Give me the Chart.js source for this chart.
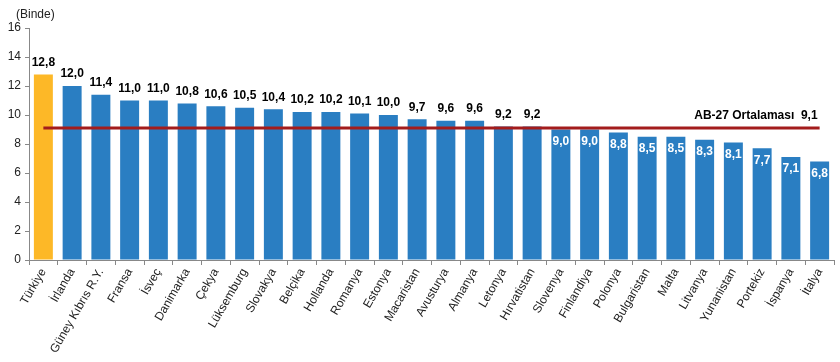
<!DOCTYPE html>
<html>
<head>
<meta charset="utf-8">
<script src="https://cdn.jsdelivr.net/npm/chart.js@4/dist/chart.umd.min.js"></script>
<style>
  html, body { margin: 0; padding: 0; background: #fff; }
  #wrap { width: 840px; height: 362px; }
</style>
</head>
<body>
<div id="wrap"><canvas id="bar-chart"></canvas></div>
<script>
const countries = ["Türkiye", "İrlanda", "Güney Kıbrıs R.Y.", "Fransa", "İsveç", "Danimarka", "Çekya", "Lüksemburg", "Slovakya", "Belçika", "Hollanda", "Romanya", "Estonya", "Macaristan", "Avusturya", "Almanya", "Letonya", "Hırvatistan", "Slovenya", "Finlandiya", "Polonya", "Bulgaristan", "Malta", "Litvanya", "Yunanistan", "Portekiz", "İspanya", "İtalya"];
const rates = [12.8, 12.0, 11.4, 11.0, 11.0, 10.8, 10.6, 10.5, 10.4, 10.2, 10.2, 10.1, 10.0, 9.7, 9.6, 9.6, 9.2, 9.2, 9.0, 9.0, 8.8, 8.5, 8.5, 8.3, 8.1, 7.7, 7.1, 6.8];
const euAverage = 9.1;
const avgLabel = "AB-27 Ortalaması";
const yTicks = [0, 2, 4, 6, 8, 10, 12, 14, 16];
const unitLabel = "(Binde)";

const fmt = v => v.toFixed(1).replace('.', ',');
const FONT = "Arial, 'Liberation Sans', sans-serif";

const barColors = countries.map((c, i) => i === 0 ? '#FDB827' : '#2A7EC2');

const labelsPlugin = {
  id: 'labels',
  afterDatasetsDraw(chart) {
    const ctx = chart.ctx;
    const y = chart.scales.y;
    const meta = chart.getDatasetMeta(0);
    ctx.save();
    ctx.font = 'bold 12px ' + FONT;
    ctx.textAlign = 'center';
    ctx.textBaseline = 'middle';
    meta.data.forEach((bar, i) => {
      const v = rates[i];
      if (v > euAverage) {
        ctx.fillStyle = '#000';
        ctx.fillText(fmt(v), bar.x, bar.y - 12);
      } else {
        ctx.fillStyle = '#fff';
        ctx.fillText(fmt(v), bar.x, bar.y + 12);
      }
    });
    // average label
    const last = meta.data[meta.data.length - 1];
    ctx.fillStyle = '#000';
    ctx.textAlign = 'right';
    ctx.fillText(avgLabel + '  ' + fmt(euAverage), last.x - 2, y.getPixelForValue(euAverage) - 12);
    // unit label
    ctx.font = '12px ' + FONT;
    ctx.fillStyle = '#222';
    ctx.textAlign = 'left';
    ctx.fillText(unitLabel, 16, 15);
    ctx.restore();
  }
};

new Chart(document.getElementById('bar-chart'), {
  data: {
    labels: countries,
    datasets: [
      {
        type: 'bar',
        data: rates,
        backgroundColor: barColors,
        categoryPercentage: 1,
        barPercentage: 0.66,
        order: 2
      },
      {
        type: 'line',
        data: countries.map(() => euAverage),
        borderColor: '#A31C1C',
        borderWidth: 3,
        pointRadius: 0,
        fill: false,
        order: 1
      }
    ]
  },
  options: {
    responsive: true,
    maintainAspectRatio: false,
    animation: false,
    layout: { padding: { top: 28, right: 6, left: 0, bottom: 0 } },
    plugins: {
      legend: { display: false },
      tooltip: { enabled: false }
    },
    scales: {
      x: {
        offset: true,
        grid: { display: true, offset: true, drawOnChartArea: false, tickLength: 5, color: '#888' },
        border: { color: '#888' },
        ticks: {
          autoSkip: false,
          maxRotation: 60,
          minRotation: 60,
          padding: 1,
          color: '#222',
          font: { family: FONT, size: 12 }
        },
        afterFit(scale) { scale.height = 102; }
      },
      y: {
        min: 0,
        max: 16,
        afterBuildTicks(scale) { scale.ticks = yTicks.map(v => ({ value: v })); },
        grid: { display: true, drawOnChartArea: false, tickLength: 4, color: '#888' },
        border: { color: '#888' },
        ticks: {
          padding: 4,
          color: '#222',
          font: { family: FONT, size: 12 }
        },
        afterFit(scale) { scale.width = 29; }
      }
    }
  },
  plugins: [labelsPlugin]
});
</script>
</body>
</html>
